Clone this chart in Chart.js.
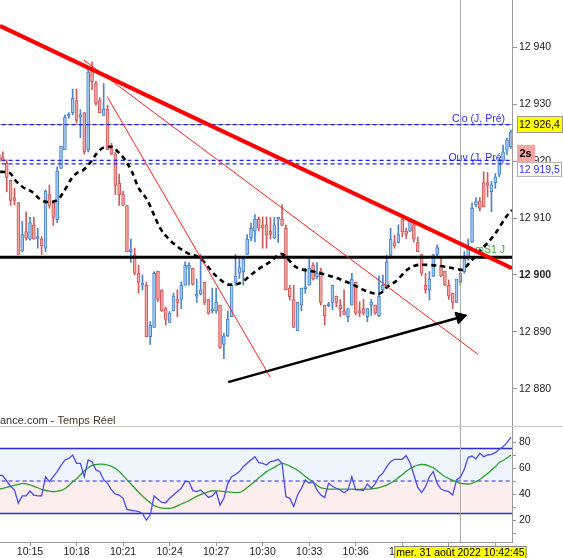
<!DOCTYPE html>
<html><head><meta charset="utf-8">
<script src="https://cdn.jsdelivr.net/npm/chart.js@4.4.1/dist/chart.umd.min.js"></script>
<style>
html,body{margin:0;padding:0;background:#fff;width:563px;height:558px;overflow:hidden}
#wrap{position:relative;width:563px;height:558px}
#c1{position:absolute;left:0;top:0}
#c2{position:absolute;left:0;top:427px}
#sep{position:absolute;left:0;top:426px;width:563px;height:1px;background:#c8c8c8}
</style></head>
<body><div id="wrap"><canvas id="c1" width="563" height="427"></canvas><canvas id="c2" width="563" height="131"></canvas><div id="sep"></div></div>
<script>
// ---------- DATA ----------
const firstCandle = "10:13:00";
const candleSec = 15;
const open = [12921.1,12920.6,12919.6,12916.6,12913.6,12912.7,12904.2,12907.6,12906.3,12908.7,
12906.4,12906.3,12904.7,12914.1,12912.7,12909.7,12918.7,12922.0,12927.9,12928.5,
12930.6,12927.7,12928.5,12922.0,12936.0,12933.6,12930.6,12928.0,12929.1,12922.2,
12921.2,12916.1,12914.1,12912.2,12904.1,12903.6,12900.3,12898.2,12898.2,12889.2,
12890.8,12900.7,12897.4,12894.1,12891.7,12893.7,12895.7,12895.7,12898.2,12901.2,
12901.2,12896.3,12896.7,12898.7,12895.7,12893.7,12893.7,12894.7,12887.8,12889.3,
12892.7,12898.7,12900.3,12900.6,12903.6,12906.5,12907.7,12909.8,12908.8,12908.8,
12907.7,12906.5,12909.8,12909.8,12908.2,12897.7,12895.7,12890.2,12894.7,12897.6,
12898.2,12901.7,12899.7,12900.7,12894.7,12894.6,12895.2,12896.3,12894.7,12893.7,
12892.7,12894.7,12898.7,12893.7,12894.1,12892.7,12894.7,12894.7,12892.8,12897.4,
12897.7,12903.5,12905.7,12905.7,12909.8,12907.7,12907.7,12908.8,12905.7,12903.6,
12898.2,12897.4,12899.8,12903.6,12901.7,12900.7,12898.2,12896.8,12895.2,12898.7,
12900.6,12902.8,12905.8,12912.3,12913.0,12916.2,12916.2,12914.6,12916.2,12917.7,
12920.0,12921.9,12922.5];
const high = [12921.8,12921.6,12920.2,12916.6,12915.2,12912.7,12909.4,12911.1,12910.1,12910.1,
12908.2,12906.7,12914.9,12915.8,12912.7,12919.0,12922.6,12928.1,12928.5,12932.6,
12932.6,12929.0,12928.5,12936.3,12937.4,12934.0,12931.1,12933.6,12929.8,12923.1,
12921.6,12917.7,12914.7,12912.2,12906.3,12904.7,12901.7,12900.0,12898.7,12891.8,
12900.6,12900.7,12897.4,12894.4,12893.6,12896.8,12897.4,12898.8,12902.3,12902.2,
12901.2,12899.3,12903.6,12898.7,12895.7,12897.7,12897.7,12894.7,12889.8,12893.7,
12898.2,12903.6,12902.8,12903.2,12907.1,12909.1,12910.6,12910.2,12910.2,12910.2,
12910.1,12910.1,12910.1,12912.3,12908.8,12898.2,12898.2,12895.2,12897.7,12901.2,
12902.8,12902.2,12902.2,12901.2,12894.7,12895.2,12898.2,12896.3,12895.7,12897.4,
12894.1,12900.3,12898.7,12895.3,12895.7,12894.1,12895.7,12894.7,12899.8,12900.0,
12903.5,12908.2,12907.0,12908.8,12909.9,12908.2,12909.9,12909.6,12906.7,12903.6,
12900.3,12900.6,12903.6,12905.3,12903.2,12900.7,12899.1,12896.8,12899.3,12901.2,
12904.1,12906.3,12912.6,12913.6,12913.6,12918.1,12918.0,12916.4,12917.8,12920.6,
12922.8,12924.0,12925.4];
const low = [12919.3,12920.0,12914.6,12912.2,12912.3,12903.6,12904.1,12906.1,12906.1,12906.3,
12904.7,12903.6,12904.1,12911.7,12908.7,12909.2,12918.7,12922.0,12927.5,12928.1,
12926.6,12924.1,12921.2,12921.6,12932.5,12929.8,12928.5,12928.0,12922.0,12921.1,
12914.1,12912.2,12912.2,12904.1,12902.2,12900.0,12896.8,12897.4,12889.2,12887.8,
12890.8,12895.3,12893.6,12891.2,12891.7,12893.7,12892.7,12894.1,12898.2,12898.2,
12898.2,12895.2,12896.5,12894.8,12893.1,12893.3,12893.3,12887.1,12885.3,12889.2,
12892.7,12898.2,12899.4,12898.2,12903.6,12906.0,12905.8,12907.7,12904.7,12904.7,
12906.3,12906.4,12905.7,12908.7,12897.4,12895.6,12890.8,12890.2,12893.7,12896.8,
12898.2,12899.1,12899.3,12894.7,12891.2,12894.4,12893.9,12894.4,12892.7,12893.0,
12891.8,12894.7,12893.0,12892.7,12893.0,12891.8,12892.9,12893.1,12892.7,12897.1,
12897.7,12903.2,12904.7,12905.6,12906.7,12906.4,12907.6,12905.8,12904.1,12899.9,
12896.8,12895.6,12899.7,12903.2,12899.7,12898.1,12895.7,12894.1,12895.2,12898.2,
12900.3,12902.6,12905.7,12912.0,12911.2,12912.0,12913.7,12911.1,12915.2,12917.2,
12920.0,12921.1,12922.2];
const close = [12919.9,12920.1,12917.1,12913.1,12913.1,12903.6,12907.1,12906.5,12909.2,12906.3,
12906.5,12905.1,12914.7,12912.2,12910.1,12918.2,12922.6,12927.7,12928.0,12931.0,
12927.1,12928.1,12921.6,12935.6,12933.9,12930.1,12928.5,12929.1,12922.0,12921.2,
12915.7,12914.1,12912.2,12904.1,12904.3,12900.3,12898.7,12898.3,12889.2,12891.2,
12900.3,12895.7,12893.7,12892.2,12893.3,12896.3,12895.2,12898.2,12901.7,12901.7,
12898.4,12896.4,12897.4,12895.2,12893.3,12893.8,12895.2,12887.3,12889.3,12892.2,
12898.2,12899.8,12901.3,12902.8,12906.3,12908.2,12909.8,12908.2,12908.2,12907.0,
12907.1,12908.8,12910.1,12908.7,12897.4,12896.2,12890.8,12895.2,12897.7,12897.7,
12901.2,12899.3,12900.3,12895.2,12892.8,12894.8,12898.2,12895.2,12894.1,12893.1,
12894.1,12899.3,12893.3,12893.3,12893.3,12894.1,12895.2,12893.3,12896.3,12898.2,
12902.3,12906.3,12905.1,12907.1,12907.6,12907.1,12909.4,12906.3,12904.1,12900.3,
12897.4,12899.3,12903.6,12904.8,12899.8,12898.2,12896.3,12895.2,12899.3,12900.3,
12902.8,12904.6,12911.7,12912.9,12911.7,12912.0,12915.7,12915.8,12917.2,12920.2,
12921.6,12923.7,12925.1];
// moving average (dashed), read at candle positions
const maX = [0.3,2.8,4.1,6.2,8.5,10.6,12.6,15.2,16.5,18.8,20.1,21.7,23.5,25.3,26.8,29.2,30.7,32.5,34.3,35.9,38.2,40.2,41.5,44.1,48.5,51.8,56.2,59.6,62.2,66.6,69.9,72.7,76.6,81.8,86.9,91.3,95.4,98.0,100.1,102.7,105.2,108.6,113.7,117.6,119.4,121.5,124.3,127.7,131.0,132.3];
const maY = [12918.1,12917.9,12916.7,12915.4,12914.6,12913.3,12912.8,12913.2,12914.4,12917.0,12917.9,12918.4,12919.7,12921.4,12922.3,12922.5,12921.6,12920.2,12918.1,12915.4,12913.2,12910.2,12908.3,12906.1,12903.9,12903.0,12899.7,12898.3,12898.6,12900.9,12902.3,12903.7,12901.4,12900.5,12899.5,12898.3,12897.0,12896.7,12897.9,12899.1,12900.9,12901.8,12901.6,12901.1,12900.9,12902.3,12904.4,12907.0,12910.4,12911.4];
// RSI and its signal
const rsi = [54.6,54,50,46,43,33,38.5,38.5,42.3,39.2,38.5,38.5,53.3,49.5,53.3,57.2,62,66.2,67.4,70,
63.6,63.6,53.3,66.2,64.9,58.5,57.2,51,48.2,43.1,40,39.2,36.7,28.2,27.5,27,26.4,25,20,23.8,
38.5,36,33.5,33.3,36.7,39.2,42,44.4,49.5,49.5,42.6,41.8,43.1,40.5,37.4,38.5,41.8,31.5,36.7,48,
53.3,55,57.2,61,63.6,66.2,68.7,64.1,63.6,62.3,64.9,65.5,66.7,63.6,38,36.7,30.3,39.2,44.4,50.8,
48.2,49.5,43.1,39.2,37.4,48.2,46,44.4,43.1,41,43.1,53.3,43.1,43.1,42.6,47.7,44.4,47.7,53.3,56,
61,64.9,66.7,66.7,66.7,69.5,64.1,54.6,45,41,45.6,53.3,57.2,48.2,43.8,42.5,41.8,39.2,50.8,53,
59,68.2,69.2,67,71.3,68.7,70,70.5,71.8,74.4,76.4,79.5,83.6];
const rsiSignal = [43.6,44.4,45.1,45.9,46.7,47.4,48.1,47.8,47,45.9,44.8,43.5,42.7,42.2,41.8,42.1,42.7,44,46.5,49.3,
51.8,54.8,57.9,60.2,62.1,62.6,63,62.8,62.2,61.3,59.8,57.3,54.3,51,47.8,44.6,41.3,38.4,35.8,33.3,
31.1,30,29.1,29,29,29.6,30.8,32.3,33.6,34.8,36.5,38.2,39.6,40.6,41.6,42.5,42.4,42.2,41.9,41.6,
41.4,41.1,41.2,42.6,45,47.3,49.8,52.4,54.8,57.2,58.9,60.5,62.3,63.5,62.8,61.5,60,58.3,56,53.5,
51.3,49,46.8,44.8,44.2,43.8,43.8,43.8,43.8,43.8,43.7,43.7,43.6,43.6,43.7,43.8,44,44.3,44.9,45.9,
46.9,48.5,50.3,52.6,54.9,57.5,59.4,61.1,62.2,62.7,62.5,61.5,60.2,58,55.5,53.3,51.9,50.5,49.4,48.2,
47.9,47.7,48.2,49.6,51.2,53.5,55.8,58.4,61.1,64,65.8,67.7,70];
const rsiLevels = [75, 50, 25];
// drawn objects (candle index, price)
const trendThick = [[0.26,12943.7],[132.3,12901.2]];
const trendThin1 = [[21.9,12937.7],[123.5,12886.1]];
const trendThin2 = [[27.9,12931.3],[69.9,12882.1]];
const arrowLine = [[59.1,12881.2],[118.9,12892.6]];
const supportLevel = 12903.1;
const supportName = "mS1 J";
const levelValues = [12926.4, 12920.1, 12919.5];
const levelNames = ["Clo (J, Pré)", "Ouv (J, Pré)"];
const lastPrice = "12 926,4";
const otherPrice = "12 919,5";
const timerText = "2s";
const cursorTime = "10:42:45";
const dateLabel = "mer. 31 août 2022 10:42:45";
const sourceText = ["ance.com - ", "Temps Réel"];
const yTicks = [12880,12890,12900,12910,12920,12930,12940];
const rsiTicks = [10,20,30,40,50,60,70,80];
const timeLabels = ["10:15","10:18","10:21","10:24","10:27","10:30","10:33","10:36","10:39","10:42","10:45"];

// ---------- HELPERS ----------
const FONT = "'Liberation Sans', Arial, Helvetica, sans-serif";
Chart.defaults.font.family = FONT;
Chart.defaults.font.size = 10.5;
Chart.defaults.color = '#222';
Chart.defaults.animation = false;
Chart.defaults.elements.point.radius = 0;
Chart.defaults.plugins.legend.display = false;
Chart.defaults.plugins.tooltip.enabled = false;

const toSec = t => { const p = t.split(':').map(Number); return p[0]*3600 + p[1]*60 + (p[2]||0); };
const timeIdx = t => (toSec(t) - toSec(firstCandle)) / candleSec;
const cursorIdx = timeIdx(cursorTime);
const xMin = 0.263, xMax = 132.3;
const fmtPrice = v => { const s = String(Math.round(v)); return s.slice(0, s.length-3) + ' ' + s.slice(-3); };

const BLUE_FILL = '#a3c6ee', BLUE_LINE = '#4a85cc', RED_FILL = '#f2a3a3', RED_LINE = '#cf5a5a';
const idx = open.map((_, i) => i);
const isUp = idx.map(i => close[i] >= open[i]);

function seg(pts, color, width, dash, order) {
  return { type: 'line', data: pts.map(p => ({x: p[0], y: p[1]})), borderColor: color, borderWidth: width,
    borderDash: dash || [], pointRadius: 0, order: order, fill: false, tension: 0, borderCapStyle: 'butt' };
}
const hline = (v, color, width, dash, order) => seg([[xMin - 5, v], [xMax + 5, v]], color, width, dash, order);

const yAxisFit = s => { s.width = 51; s.paddingTop = 0; s.paddingBottom = 0; };

// ---------- MAIN CHART ----------
const mainOverlay = {
  id: 'mainOverlay',
  beforeDatasetsDraw(chart) {
    const {ctx, chartArea: ca, scales: {y}} = chart;
    ctx.save();
    ctx.font = '10.5px ' + FONT;
    ctx.textAlign = 'right';
    ctx.textBaseline = 'alphabetic';
    ctx.fillStyle = '#2f2fff';
    ctx.fillText(levelNames[0], ca.right - 7, y.getPixelForValue(levelValues[0]) - 3);
    ctx.fillText(levelNames[1], ca.right - 7, y.getPixelForValue(levelValues[1]) + 0.5);
    ctx.fillStyle = '#3aa53a';
    ctx.fillText(supportName, ca.right - 7, y.getPixelForValue(supportLevel) - 4);
    ctx.restore();
  },
  afterDraw(chart) {
    const {ctx, chartArea: ca, scales: {y}} = chart;
    ctx.save();
    ctx.font = '11px ' + FONT;
    ctx.textAlign = 'left';
    ctx.textBaseline = 'alphabetic';
    ctx.fillStyle = '#333';
    ctx.fillText(sourceText[0], 0, ca.bottom - 3);
    const w0 = ctx.measureText(sourceText[0]).width;
    ctx.fillStyle = '#4a3520';
    ctx.fillText(sourceText[1], w0, ca.bottom - 3);
    // axis boxes
    const x0 = ca.right + 5;
    ctx.font = '10.5px ' + FONT;
    ctx.textBaseline = 'middle';
    const yl = y.getPixelForValue(levelValues[0]);
    ctx.fillStyle = '#ffff00';
    ctx.fillRect(x0, yl - 8.5, 563 - x0, 17);
    ctx.strokeStyle = '#999'; ctx.lineWidth = 1;
    ctx.strokeRect(x0 + 0.5, yl - 8, 563 - x0 - 1, 16);
    ctx.fillStyle = '#000';
    ctx.fillText(lastPrice, x0 + 2, yl + 0.5);
    const yo = y.getPixelForValue(levelValues[2]);
    const top = yo - 2;
    ctx.fillStyle = '#fff';
    ctx.fillRect(x0, top, 45, 15);
    ctx.strokeStyle = '#aaa';
    ctx.strokeRect(x0 + 0.5, top + 0.5, 44, 14);
    ctx.fillStyle = '#2f2fff';
    ctx.fillText(otherPrice, x0 + 2, top + 8);
    ctx.fillStyle = '#f5a3a3';
    ctx.fillRect(x0, top - 17, 18, 17);
    ctx.fillStyle = '#000';
    ctx.font = 'bold 11px ' + FONT;
    ctx.fillText(timerText, x0 + 2.5, top - 8);
    ctx.restore();
  }
};

const mainDatasets = [
  { type: 'bar', data: idx.map(i => ({x: i, y: [low[i], high[i]]})), backgroundColor: idx.map(i => isUp[i] ? BLUE_LINE : RED_LINE),
    borderWidth: 0, barThickness: 1, grouped: false, order: 30 },
  { type: 'bar', data: idx.map(i => ({x: i, y: [open[i], close[i]]})), backgroundColor: idx.map(i => isUp[i] ? BLUE_FILL : RED_FILL),
    borderColor: idx.map(i => isUp[i] ? BLUE_LINE : RED_LINE), borderWidth: 1, borderSkipped: false, minBarLength: 2,
    barThickness: 3, grouped: false, order: 29 },
  seg([[cursorIdx, 12800], [cursorIdx, 13000]], '#a8a8a8', 1, null, 25),
  hline(levelValues[0], '#9a9a9a', 1, null, 20),
  hline(levelValues[0], '#1f1fff', 1.2, [4, 3], 19),
  hline(levelValues[1], '#1f1fff', 1.2, [4, 3], 19),
  hline(levelValues[2], '#1f1fff', 1.2, [4, 3], 19),
  { type: 'line', data: maX.map((x, i) => ({x: x, y: maY[i]})), borderColor: '#000', borderWidth: 2.6, borderDash: [5, 4],
    pointRadius: 0, cubicInterpolationMode: 'monotone', fill: false, order: 12 },
  hline(supportLevel, '#000', 3, null, 10),
  seg(trendThin1, '#ff2020', 1, null, 8),
  seg(trendThin2, '#ff2020', 1, null, 8),
  seg(trendThick, '#ff0000', 4, null, 7),
  seg(arrowLine, '#000', 2.5, null, 6),
  { type: 'line', data: [{x: arrowLine[1][0], y: arrowLine[1][1]}], pointStyle: 'triangle', pointRadius: 7, pointRotation: 74,
    pointBackgroundColor: '#000', pointBorderColor: '#000', pointBorderWidth: 1, showLine: false, order: 5 }
];

new Chart(document.getElementById('c1'), {
  type: 'bar',
  data: { datasets: mainDatasets },
  options: {
    responsive: false, devicePixelRatio: 1, events: [],
    layout: { padding: 0, autoPadding: false },
    scales: {
      x: { type: 'linear', min: xMin, max: xMax, offset: false, display: false },
      y: { type: 'linear', position: 'right', min: 12873.33, max: 12948.25, beginAtZero: false,
        afterBuildTicks: s => { s.ticks = yTicks.map(v => ({value: v})); },
        afterFit: yAxisFit,
        grid: { drawOnChartArea: false, drawTicks: true, tickLength: 5, color: '#999' },
        border: { display: true, color: '#999' },
        ticks: { padding: 2, color: '#222', callback: v => fmtPrice(v),
          font: c => ({ family: FONT, size: 10.5, weight: (c.tick && c.tick.value === 12900) ? 'bold' : 'normal' }) } }
    }
  },
  plugins: [mainOverlay]
});

// ---------- RSI CHART ----------
const rsiOverlay = {
  id: 'rsiOverlay',
  afterDraw(chart) {
    const {ctx, chartArea: ca, scales: {x}} = chart;
    ctx.save();
    ctx.font = '10.5px ' + FONT;
    const w = ctx.measureText(dateLabel).width + 4;
    const cx = x.getPixelForValue(cursorIdx);
    const top = ca.bottom + 4;
    ctx.fillStyle = '#ffff00';
    ctx.fillRect(cx - w / 2, top, w, 20);
    ctx.strokeStyle = '#888'; ctx.lineWidth = 1;
    ctx.strokeRect(cx - w / 2 + 0.5, top + 0.5, w - 1, 20);
    ctx.fillStyle = '#000';
    ctx.textAlign = 'center'; ctx.textBaseline = 'middle';
    ctx.fillText(dateLabel, cx, top + 7.5);
    ctx.restore();
  }
};

new Chart(document.getElementById('c2'), {
  type: 'line',
  data: { datasets: [
    hline(rsiLevels[1], '#2a2ad8', 1.2, [4, 3], 10),
    Object.assign(hline(rsiLevels[0], '#2a2ad8', 1.5, null, 12), { fill: 0, backgroundColor: '#eef5fd' }),
    Object.assign(hline(rsiLevels[2], '#2a2ad8', 1.5, null, 11), { fill: 0, backgroundColor: '#fdeeee' }),
    seg([[cursorIdx, -10], [cursorIdx, 200]], '#a8a8a8', 1, null, 9),
    { type: 'line', data: idx.map(i => ({x: i, y: rsiSignal[i]})), borderColor: '#2ea12e', borderWidth: 1.3, pointRadius: 0,
      cubicInterpolationMode: 'monotone', fill: false, order: 5 },
    { type: 'line', data: idx.map(i => ({x: i, y: rsi[i]})), borderColor: '#4b4bf0', borderWidth: 1.3, pointRadius: 0,
      tension: 0, fill: false, order: 4 }
  ] },
  options: {
    responsive: false, devicePixelRatio: 1, events: [],
    layout: { padding: 0, autoPadding: false },
    scales: {
      x: { type: 'linear', min: xMin, max: xMax, offset: false, position: 'bottom',
        afterBuildTicks: s => { s.ticks = timeLabels.map(t => ({value: timeIdx(t + ':00')})); },
        afterFit: s => { s.height = 16; s.paddingLeft = 0; s.paddingRight = 0; },
        grid: { drawOnChartArea: false, drawTicks: true, tickLength: 4, color: '#999' },
        border: { display: true, color: '#999' },
        ticks: { autoSkip: false, maxRotation: 0, padding: 0, color: '#222', font: { size: 10.5 },
          callback: (v, i) => timeLabels[i] } },
      y: { type: 'linear', position: 'right', min: 3.08, max: 91.54,
        afterBuildTicks: s => { s.ticks = rsiTicks.map(v => ({value: v})); },
        afterFit: yAxisFit,
        grid: { drawOnChartArea: false, drawTicks: true, tickLength: 4, color: '#999' },
        border: { display: true, color: '#999' },
        ticks: { padding: 3, color: '#222', font: { size: 10.5 }, callback: v => (v % 20 === 0 ? String(v) : '') } }
    }
  },
  plugins: [rsiOverlay]
});
</script>
</body></html>
